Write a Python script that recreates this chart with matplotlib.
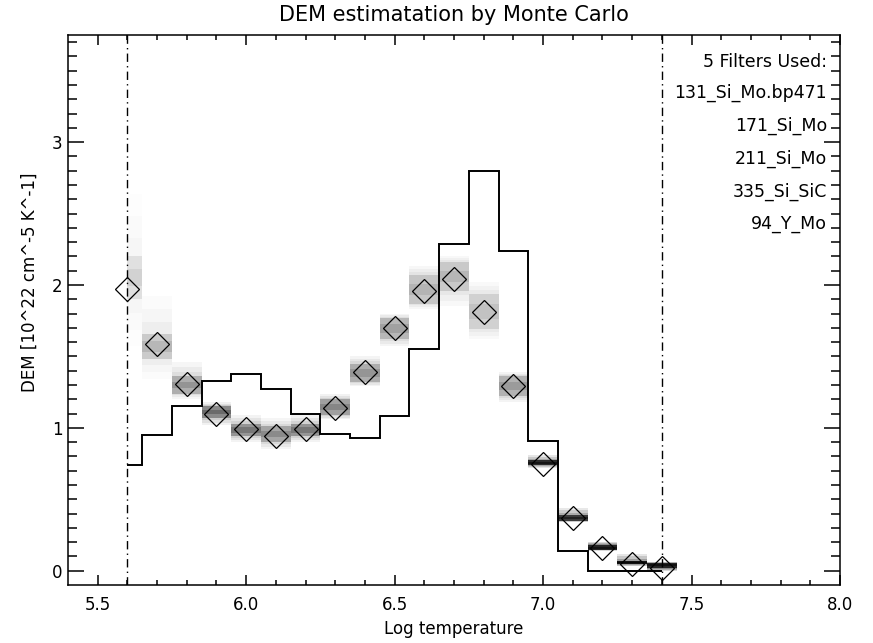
import numpy as np
import matplotlib.pyplot as plt

# temperature bins and DEM solutions
logt = [5.6, 5.7, 5.8, 5.9, 6.0, 6.1, 6.2, 6.3, 6.4, 6.5,
        6.6, 6.7, 6.8, 6.9, 7.0, 7.1, 7.2, 7.3, 7.4]
dem_hist = [0.74, 0.95, 1.15, 1.33, 1.38, 1.27, 1.10, 0.96, 0.93, 1.08,
            1.55, 2.29, 2.80, 2.24, 0.91, 0.14, 0.0, 0.0, 0.0]
dem_mc = [1.97, 1.59, 1.31, 1.10, 0.99, 0.94, 0.99, 1.14, 1.39, 1.70,
          1.96, 2.04, 1.81, 1.29, 0.75, 0.37, 0.16, 0.05, 0.02]

# spread of the Monte Carlo runs in each bin (full range and dense core)
outer_lo = [1.57, 1.34, 1.20, 1.02, 0.90, 0.85, 0.90, 1.06, 1.29, 1.57,
            1.83, 1.85, 1.62, 1.18, 0.72, 0.34, 0.14, 0.03, 0.00]
outer_hi = [2.64, 1.92, 1.46, 1.18, 1.09, 1.07, 1.09, 1.24, 1.50, 1.80,
            2.13, 2.20, 2.02, 1.39, 0.81, 0.44, 0.20, 0.12, 0.06]
core_lo = [1.90, 1.48, 1.24, 1.07, 0.94, 0.90, 0.94, 1.09, 1.32, 1.62,
           1.87, 1.96, 1.69, 1.22, 0.74, 0.35, 0.145, 0.045, 0.02]
core_hi = [2.20, 1.66, 1.36, 1.15, 1.03, 1.01, 1.03, 1.20, 1.45, 1.77,
           2.07, 2.16, 1.94, 1.36, 0.775, 0.39, 0.18, 0.07, 0.055]

filters = ["131_Si_Mo.bp471", "171_Si_Mo", "211_Si_Mo", "335_Si_SiC", "94_Y_Mo"]
t_min, t_max = 5.6, 7.4

plt.rcParams['font.family'] = 'DejaVu Sans'

fig = plt.figure(figsize=(8.73, 6.43), dpi=100)
ax = fig.add_axes([68/873, 1 - 585/643, 772/873, 550/643])

t = np.array(logt)
left = np.maximum(t - 0.05, t_min)
right = t + 0.05

# grey bands: nested layers from the full spread down to the core,
# narrower spreads come out darker
olo, ohi = np.array(outer_lo), np.array(outer_hi)
clo, chi = np.array(core_lo), np.array(core_hi)
ccen = (clo + chi) / 2
layers = []
for f in (0.0, 0.35, 0.7):
    layers.append((olo + f * (clo - olo), ohi + f * (chi - ohi), 0.009, 0.25))
layers.append((clo, chi, 0.026, 0.88))
layers.append((ccen - (chi - clo) / 5, ccen + (chi - clo) / 5, 0.007, 0.6))
for lo, hi, k, amax in layers:
    alpha = np.minimum(k / (hi - lo), amax)
    cols = [(0, 0, 0, a) for a in alpha]
    ax.bar(left, hi - lo, width=right - left, bottom=lo, align='edge',
           color=cols, linewidth=0, zorder=1)

# histogram of the DEM (IDL psym=10 style)
edges = np.concatenate([[t[0]], (t[1:] + t[:-1]) / 2, [t[-1]]])
ax.stairs(dem_hist, edges, baseline=None, color='black', linewidth=1.4, zorder=3)

ax.plot(logt, dem_mc, linestyle='none', marker='D', markersize=12.5,
        markerfacecolor='none', markeredgecolor='black', markeredgewidth=0.9, zorder=4)

for tv in (t_min, t_max):
    ax.axvline(tv, color='black', linewidth=1.0, linestyle=(0, (6, 3, 1, 3)), zorder=2)

ax.set_xlim(5.4, 8.0)
ax.set_ylim(-0.1, 3.75)
ax.set_xticks([5.5, 6.0, 6.5, 7.0, 7.5, 8.0])
ax.set_xticklabels(['5.5', '6.0', '6.5', '7.0', '7.5', '8.0'])
ax.set_xticks(np.arange(5.5, 8.0, 0.1), minor=True)
ax.set_yticks([0, 1, 2, 3])
ax.set_yticks(np.arange(0, 3.75, 0.1), minor=True)

ax.tick_params(which='both', direction='in', top=True, right=True, width=1.1, labelsize=12)
ax.tick_params(axis='x', which='major', length=7.2, pad=8)
ax.tick_params(axis='x', which='minor', length=3.6)
ax.tick_params(axis='y', which='major', length=11.5, pad=4)
ax.tick_params(axis='y', which='minor', length=6.5)
for s in ax.spines.values():
    s.set_linewidth(1.1)

ax.set_title("DEM estimatation by Monte Carlo", fontsize=15, pad=10)
ax.set_xlabel("Log temperature", fontsize=12, labelpad=4)
ax.set_ylabel("DEM [10^22 cm^-5 K^-1]", fontsize=12, labelpad=5)
ax.yaxis.set_label_coords(-0.038, 0.55)

ax.text(0.983, 0.951, "5 Filters Used:", transform=ax.transAxes,
        ha='right', va='center', fontsize=12.5)
for i, name in enumerate(filters):
    ax.text(0.983, 0.894 - 0.0595 * i, name, transform=ax.transAxes,
            ha='right', va='center', fontsize=12.5)

fig.savefig('out.png', dpi=100)
